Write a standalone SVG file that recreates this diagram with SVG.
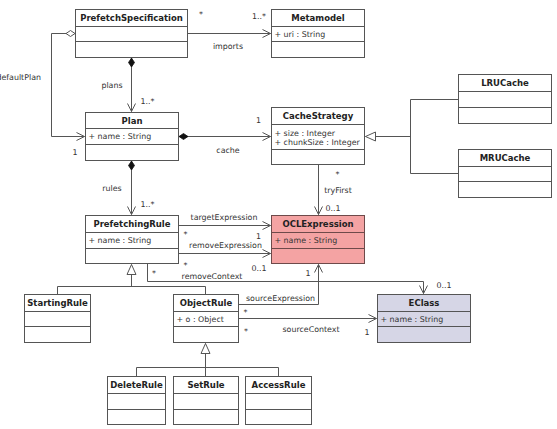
<svg xmlns="http://www.w3.org/2000/svg" width="557" height="429" viewBox="0 0 557 429">
<style>
  .box { fill: #ffffff; stroke: #555555; stroke-width: 1; }
  .div { stroke: #555555; stroke-width: 1; }
  .ocl { fill: #f4a3a3; stroke: #6e4a4a; }
  .ocl-div { stroke: #6e4a4a; }
  .ecl { fill: #d6d6e6; stroke: #555555; }
  .name { font-family: "DejaVu Sans", sans-serif; font-size: 8.5px; font-weight: bold; fill: #222222; text-anchor: middle; }
  .attr { font-family: "DejaVu Sans", sans-serif; font-size: 7.9px; fill: #333333; }
  .lbl { font-family: "DejaVu Sans", sans-serif; font-size: 7.9px; fill: #333333; }
  .mid { text-anchor: middle; }
  .end { text-anchor: end; }
  .conn path { fill: none; stroke: #555555; stroke-width: 1; }
</style>
<defs>
  <marker id="arrow" markerUnits="userSpaceOnUse" markerWidth="12" markerHeight="12" viewBox="-10 -6 12 12" refX="0" refY="0" orient="auto" overflow="visible">
    <path d="M-8,-4 L0,0 L-8,4" fill="none" stroke="#555555" stroke-width="1"/>
  </marker>
  <marker id="fdiamond" markerUnits="userSpaceOnUse" markerWidth="12" markerHeight="12" viewBox="-1 -6 12 12" refX="0" refY="0" orient="auto" overflow="visible">
    <path d="M0,0 L4.5,-3 L9,0 L4.5,3 Z" fill="#111111" stroke="#111111" stroke-width="0.8"/>
  </marker>
  <marker id="hdiamond" markerUnits="userSpaceOnUse" markerWidth="12" markerHeight="12" viewBox="-1 -6 12 12" refX="0" refY="0" orient="auto" overflow="visible">
    <path d="M0,0 L4.5,-3 L9,0 L4.5,3 Z" fill="#ffffff" stroke="#555555" stroke-width="1"/>
  </marker>
  <marker id="tri" markerUnits="userSpaceOnUse" markerWidth="14" markerHeight="14" viewBox="-12 -7 14 14" refX="0" refY="0" orient="auto" overflow="visible">
    <path d="M-10,-4.5 L0,0 L-10,4.5 Z" fill="#ffffff" stroke="#555555" stroke-width="1"/>
  </marker>
</defs>
<rect x="0" y="0" width="557" height="429" fill="#ffffff"/>

<g id="connectors" class="conn">
  <path d="M188,33.5 H270.5" marker-end="url(#arrow)"/>
  <path d="M75,33.5 H51.5 V136.5 H84.5" marker-start="url(#hdiamond)" marker-end="url(#arrow)"/>
  <path d="M131.5,58 V111.5" marker-start="url(#fdiamond)" marker-end="url(#arrow)"/>
  <path d="M179,136.5 H270.5" marker-start="url(#fdiamond)" marker-end="url(#arrow)"/>
  <path d="M131.5,161 V214.5" marker-start="url(#fdiamond)" marker-end="url(#arrow)"/>
  <path d="M458,99.5 H410.5 V173.5 H458"/>
  <path d="M410.5,136.5 H365.5" marker-end="url(#tri)"/>
  <path d="M318.5,165 V214.5" marker-end="url(#arrow)"/>
  <path d="M179,225.5 H270.5" marker-end="url(#arrow)"/>
  <path d="M179,253.5 H270.5" marker-end="url(#arrow)"/>
  <path d="M147.5,264 V281.5 H423.5 V293.5" marker-end="url(#arrow)"/>
  <path d="M57.5,294 V286.5 H205.5 V294"/>
  <path d="M131.5,286.5 V264.5" marker-end="url(#tri)"/>
  <path d="M239,304.5 H318.5 V264.5" marker-end="url(#arrow)"/>
  <path d="M239,318.5 H376.5" marker-end="url(#arrow)"/>
  <path d="M136.5,376 V367.5 H278.5 V376"/>
  <path d="M205.5,376 V343.5" marker-end="url(#tri)"/>

  <text class="lbl" x="199" y="17">*</text>
  <text class="lbl end" x="266" y="19">1..*</text>
  <text class="lbl mid" x="228" y="49">imports</text>
  <text class="lbl end" x="41" y="80">defaultPlan</text>
  <text class="lbl" x="72.5" y="154.5">1</text>
  <text class="lbl mid" x="112" y="88">plans</text>
  <text class="lbl" x="140.5" y="104">1..*</text>
  <text class="lbl" x="256" y="123">1</text>
  <text class="lbl mid" x="228" y="153">cache</text>
  <text class="lbl mid" x="112" y="191">rules</text>
  <text class="lbl" x="140.5" y="207">1..*</text>
  <text class="lbl" x="335.5" y="177">*</text>
  <text class="lbl mid" x="338" y="193">tryFirst</text>
  <text class="lbl" x="325.5" y="211">0..1</text>
  <text class="lbl mid" x="224" y="220">targetExpression</text>
  <text class="lbl" x="183.5" y="237">*</text>
  <text class="lbl" x="256" y="238.5">1</text>
  <text class="lbl mid" x="225.5" y="248">removeExpression</text>
  <text class="lbl" x="183.5" y="267.5">*</text>
  <text class="lbl" x="251.5" y="271">0..1</text>
  <text class="lbl" x="152" y="275.5">*</text>
  <text class="lbl mid" x="212" y="279">removeContext</text>
  <text class="lbl" x="305.5" y="275.5">1</text>
  <text class="lbl" x="436.5" y="288">0..1</text>
  <text class="lbl mid" x="280.5" y="300.5">sourceExpression</text>
  <text class="lbl" x="243.5" y="314.5">*</text>
  <text class="lbl" x="244" y="333.5">*</text>
  <text class="lbl mid" x="311" y="332">sourceContext</text>
  <text class="lbl" x="364.5" y="334.5">1</text>
</g>

<g id="PrefetchSpecification">
  <rect class="box" x="75.5" y="9.5" width="112" height="48"/>
  <line class="div" x1="75.5" y1="26.5" x2="187.5" y2="26.5"/>
  <line class="div" x1="75.5" y1="41.5" x2="187.5" y2="41.5"/>
  <text class="name" x="131.5" y="21">PrefetchSpecification</text>
</g>
<g id="Metamodel">
  <rect class="box" x="271.5" y="9.5" width="93" height="48"/>
  <line class="div" x1="271.5" y1="26.5" x2="364.5" y2="26.5"/>
  <line class="div" x1="271.5" y1="41.5" x2="364.5" y2="41.5"/>
  <text class="name" x="318" y="21">Metamodel</text>
  <text class="attr" x="274.5" y="37">+ uri : String</text>
</g>
<g id="Plan">
  <rect class="box" x="85.5" y="112.5" width="93" height="48"/>
  <line class="div" x1="85.5" y1="128.5" x2="178.5" y2="128.5"/>
  <line class="div" x1="85.5" y1="144.5" x2="178.5" y2="144.5"/>
  <text class="name" x="132" y="124">Plan</text>
  <text class="attr" x="88.5" y="139">+ name : String</text>
</g>
<g id="CacheStrategy">
  <rect class="box" x="271.5" y="107.5" width="93" height="57"/>
  <line class="div" x1="271.5" y1="124.5" x2="364.5" y2="124.5"/>
  <line class="div" x1="271.5" y1="149.5" x2="364.5" y2="149.5"/>
  <text class="name" x="318" y="119">CacheStrategy</text>
  <text class="attr" x="274.5" y="135.5">+ size : Integer</text>
  <text class="attr" x="274.5" y="145">+ chunkSize : Integer</text>
</g>
<g id="LRUCache">
  <rect class="box" x="458.5" y="74.5" width="93" height="49"/>
  <line class="div" x1="458.5" y1="91.5" x2="551.5" y2="91.5"/>
  <line class="div" x1="458.5" y1="107.5" x2="551.5" y2="107.5"/>
  <text class="name" x="505" y="86">LRUCache</text>
</g>
<g id="MRUCache">
  <rect class="box" x="458.5" y="149.5" width="93" height="48"/>
  <line class="div" x1="458.5" y1="166.5" x2="551.5" y2="166.5"/>
  <line class="div" x1="458.5" y1="181.5" x2="551.5" y2="181.5"/>
  <text class="name" x="505" y="161">MRUCache</text>
</g>
<g id="PrefetchingRule">
  <rect class="box" x="85.5" y="215.5" width="93" height="48"/>
  <line class="div" x1="85.5" y1="232.5" x2="178.5" y2="232.5"/>
  <line class="div" x1="85.5" y1="248.5" x2="178.5" y2="248.5"/>
  <text class="name" x="132" y="227">PrefetchingRule</text>
  <text class="attr" x="88.5" y="243">+ name : String</text>
</g>
<g id="OCLExpression">
  <rect class="box ocl" x="271.5" y="215.5" width="93" height="48"/>
  <line class="div ocl-div" x1="271.5" y1="232.5" x2="364.5" y2="232.5"/>
  <line class="div ocl-div" x1="271.5" y1="248.5" x2="364.5" y2="248.5"/>
  <text class="name" x="318" y="227">OCLExpression</text>
  <text class="attr" x="274.5" y="243">+ name : String</text>
</g>
<g id="StartingRule">
  <rect class="box" x="24.5" y="294.5" width="66" height="48"/>
  <line class="div" x1="24.5" y1="311.5" x2="90.5" y2="311.5"/>
  <line class="div" x1="24.5" y1="326.5" x2="90.5" y2="326.5"/>
  <text class="name" x="57.5" y="306">StartingRule</text>
</g>
<g id="ObjectRule">
  <rect class="box" x="173.5" y="294.5" width="65" height="48"/>
  <line class="div" x1="173.5" y1="311.5" x2="238.5" y2="311.5"/>
  <line class="div" x1="173.5" y1="326.5" x2="238.5" y2="326.5"/>
  <text class="name" x="206" y="306">ObjectRule</text>
  <text class="attr" x="176.5" y="321.5">+ o : Object</text>
</g>
<g id="EClass">
  <rect class="box ecl" x="377.5" y="294.5" width="93" height="48"/>
  <line class="div" x1="377.5" y1="311.5" x2="470.5" y2="311.5"/>
  <line class="div" x1="377.5" y1="326.5" x2="470.5" y2="326.5"/>
  <text class="name" x="424" y="306">EClass</text>
  <text class="attr" x="380.5" y="321.5">+ name : String</text>
</g>
<g id="DeleteRule">
  <rect class="box" x="107.5" y="376.5" width="58" height="48"/>
  <line class="div" x1="107.5" y1="393.5" x2="165.5" y2="393.5"/>
  <line class="div" x1="107.5" y1="409.5" x2="165.5" y2="409.5"/>
  <text class="name" x="136.5" y="388">DeleteRule</text>
</g>
<g id="SetRule">
  <rect class="box" x="173.5" y="376.5" width="65" height="48"/>
  <line class="div" x1="173.5" y1="393.5" x2="238.5" y2="393.5"/>
  <line class="div" x1="173.5" y1="409.5" x2="238.5" y2="409.5"/>
  <text class="name" x="206" y="388">SetRule</text>
</g>
<g id="AccessRule">
  <rect class="box" x="245.5" y="376.5" width="66" height="48"/>
  <line class="div" x1="245.5" y1="393.5" x2="311.5" y2="393.5"/>
  <line class="div" x1="245.5" y1="409.5" x2="311.5" y2="409.5"/>
  <text class="name" x="278.5" y="388">AccessRule</text>
</g>
</svg>
